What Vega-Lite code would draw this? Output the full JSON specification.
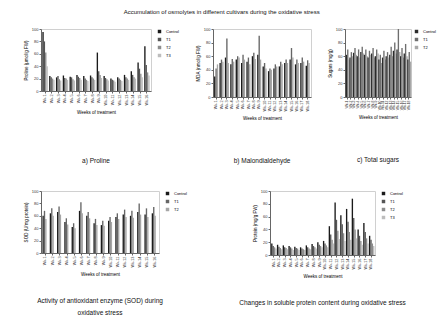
{
 "$schema": "https://vega.github.io/schema/vega-lite/v6.json",
 "padding": {"left": 22, "top": 8, "right": 2, "bottom": 2},
 "title": {"text": "Accumulation of osmolytes in different cultivars during the oxidative stress", "fontSize": 6, "fontWeight": "normal", "anchor": "middle", "offset": 12, "dx": -8},
 "config": {
  "font": "Liberation Sans",
  "view": {"stroke": "#d0d0d0"},
  "axis": {"labelFontSize": 4, "titleFontSize": 4.5, "titleFontWeight": "normal", "tickSize": 2, "labelColor": "#333", "domainColor": "#666", "tickColor": "#666", "grid": false, "labelPadding": 1, "titlePadding": 3},
  "axisX": {"labelAngle": -90, "labelFontSize": 3.8, "titlePadding": 5},
  "legend": {"labelFontSize": 4, "symbolSize": 12, "title": null, "symbolType": "square", "rowPadding": 3, "offset": 6},
  "title": {"fontSize": 6.5, "fontWeight": "normal", "color": "#111"}
 },
 "datasets": {
  "a": [
   {"g":"Wk-1","s":"Control","v":95},{"g":"Wk-1","s":"T1","v":80},{"g":"Wk-1","s":"T2","v":62},{"g":"Wk-1","s":"T3","v":40},
   {"g":"Wk-2","s":"Control","v":24},{"g":"Wk-2","s":"T1","v":22},{"g":"Wk-2","s":"T2","v":20},{"g":"Wk-2","s":"T3","v":18},
   {"g":"Wk-3","s":"Control","v":22},{"g":"Wk-3","s":"T1","v":24},{"g":"Wk-3","s":"T2","v":19},{"g":"Wk-3","s":"T3","v":17},
   {"g":"Wk-4","s":"Control","v":25},{"g":"Wk-4","s":"T1","v":21},{"g":"Wk-4","s":"T2","v":20},{"g":"Wk-4","s":"T3","v":18},
   {"g":"Wk-5","s":"Control","v":23},{"g":"Wk-5","s":"T1","v":22},{"g":"Wk-5","s":"T2","v":19},{"g":"Wk-5","s":"T3","v":17},
   {"g":"Wk-6","s":"Control","v":26},{"g":"Wk-6","s":"T1","v":23},{"g":"Wk-6","s":"T2","v":21},{"g":"Wk-6","s":"T3","v":18},
   {"g":"Wk-7","s":"Control","v":24},{"g":"Wk-7","s":"T1","v":20},{"g":"Wk-7","s":"T2","v":18},{"g":"Wk-7","s":"T3","v":16},
   {"g":"Wk-8","s":"Control","v":25},{"g":"Wk-8","s":"T1","v":22},{"g":"Wk-8","s":"T2","v":20},{"g":"Wk-8","s":"T3","v":18},
   {"g":"Wk-9","s":"Control","v":62},{"g":"Wk-9","s":"T1","v":32},{"g":"Wk-9","s":"T2","v":26},{"g":"Wk-9","s":"T3","v":21},
   {"g":"Wk-10","s":"Control","v":24},{"g":"Wk-10","s":"T1","v":21},{"g":"Wk-10","s":"T2","v":19},{"g":"Wk-10","s":"T3","v":17},
   {"g":"Wk-11","s":"Control","v":20},{"g":"Wk-11","s":"T1","v":18},{"g":"Wk-11","s":"T2","v":17},{"g":"Wk-11","s":"T3","v":15},
   {"g":"Wk-12","s":"Control","v":22},{"g":"Wk-12","s":"T1","v":20},{"g":"Wk-12","s":"T2","v":18},{"g":"Wk-12","s":"T3","v":16},
   {"g":"Wk-13","s":"Control","v":26},{"g":"Wk-13","s":"T1","v":22},{"g":"Wk-13","s":"T2","v":20},{"g":"Wk-13","s":"T3","v":18},
   {"g":"Wk-14","s":"Control","v":32},{"g":"Wk-14","s":"T1","v":26},{"g":"Wk-14","s":"T2","v":22},{"g":"Wk-14","s":"T3","v":20},
   {"g":"Wk-15","s":"Control","v":46},{"g":"Wk-15","s":"T1","v":36},{"g":"Wk-15","s":"T2","v":28},{"g":"Wk-15","s":"T3","v":22},
   {"g":"Wk-16","s":"Control","v":72},{"g":"Wk-16","s":"T1","v":42},{"g":"Wk-16","s":"T2","v":30},{"g":"Wk-16","s":"T3","v":25}
  ],
  "b": [
   {"g":"Wk-1","s":"Control","v":30},{"g":"Wk-1","s":"T1","v":42},{"g":"Wk-1","s":"T2","v":48},
   {"g":"Wk-2","s":"Control","v":50},{"g":"Wk-2","s":"T1","v":55},{"g":"Wk-2","s":"T2","v":52},
   {"g":"Wk-3","s":"Control","v":58},{"g":"Wk-3","s":"T1","v":86},{"g":"Wk-3","s":"T2","v":50},
   {"g":"Wk-4","s":"Control","v":48},{"g":"Wk-4","s":"T1","v":56},{"g":"Wk-4","s":"T2","v":52},
   {"g":"Wk-5","s":"Control","v":55},{"g":"Wk-5","s":"T1","v":60},{"g":"Wk-5","s":"T2","v":58},
   {"g":"Wk-6","s":"Control","v":50},{"g":"Wk-6","s":"T1","v":62},{"g":"Wk-6","s":"T2","v":55},
   {"g":"Wk-7","s":"Control","v":52},{"g":"Wk-7","s":"T1","v":58},{"g":"Wk-7","s":"T2","v":48},
   {"g":"Wk-8","s":"Control","v":60},{"g":"Wk-8","s":"T1","v":65},{"g":"Wk-8","s":"T2","v":56},
   {"g":"Wk-9","s":"Control","v":62},{"g":"Wk-9","s":"T1","v":90},{"g":"Wk-9","s":"T2","v":55},
   {"g":"Wk-10","s":"Control","v":45},{"g":"Wk-10","s":"T1","v":50},{"g":"Wk-10","s":"T2","v":42},
   {"g":"Wk-11","s":"Control","v":38},{"g":"Wk-11","s":"T1","v":42},{"g":"Wk-11","s":"T2","v":40},
   {"g":"Wk-12","s":"Control","v":42},{"g":"Wk-12","s":"T1","v":48},{"g":"Wk-12","s":"T2","v":45},
   {"g":"Wk-13","s":"Control","v":45},{"g":"Wk-13","s":"T1","v":52},{"g":"Wk-13","s":"T2","v":48},
   {"g":"Wk-14","s":"Control","v":50},{"g":"Wk-14","s":"T1","v":55},{"g":"Wk-14","s":"T2","v":50},
   {"g":"Wk-15","s":"Control","v":55},{"g":"Wk-15","s":"T1","v":72},{"g":"Wk-15","s":"T2","v":58},
   {"g":"Wk-16","s":"Control","v":48},{"g":"Wk-16","s":"T1","v":55},{"g":"Wk-16","s":"T2","v":50},
   {"g":"Wk-17","s":"Control","v":50},{"g":"Wk-17","s":"T1","v":58},{"g":"Wk-17","s":"T2","v":52},
   {"g":"Wk-18","s":"Control","v":46},{"g":"Wk-18","s":"T1","v":54},{"g":"Wk-18","s":"T2","v":50}
  ],
  "c": [
   {"g":"Wk-1","s":"Control","v":62},{"g":"Wk-1","s":"T1","v":70},{"g":"Wk-1","s":"T2","v":55},
   {"g":"Wk-2","s":"Control","v":58},{"g":"Wk-2","s":"T1","v":66},{"g":"Wk-2","s":"T2","v":60},
   {"g":"Wk-3","s":"Control","v":65},{"g":"Wk-3","s":"T1","v":72},{"g":"Wk-3","s":"T2","v":62},
   {"g":"Wk-4","s":"Control","v":60},{"g":"Wk-4","s":"T1","v":70},{"g":"Wk-4","s":"T2","v":58},
   {"g":"Wk-5","s":"Control","v":66},{"g":"Wk-5","s":"T1","v":74},{"g":"Wk-5","s":"T2","v":64},
   {"g":"Wk-6","s":"Control","v":62},{"g":"Wk-6","s":"T1","v":70},{"g":"Wk-6","s":"T2","v":60},
   {"g":"Wk-7","s":"Control","v":58},{"g":"Wk-7","s":"T1","v":68},{"g":"Wk-7","s":"T2","v":62},
   {"g":"Wk-8","s":"Control","v":64},{"g":"Wk-8","s":"T1","v":72},{"g":"Wk-8","s":"T2","v":58},
   {"g":"Wk-9","s":"Control","v":60},{"g":"Wk-9","s":"T1","v":70},{"g":"Wk-9","s":"T2","v":64},
   {"g":"Wk-10","s":"Control","v":55},{"g":"Wk-10","s":"T1","v":62},{"g":"Wk-10","s":"T2","v":50},
   {"g":"Wk-11","s":"Control","v":58},{"g":"Wk-11","s":"T1","v":68},{"g":"Wk-11","s":"T2","v":55},
   {"g":"Wk-12","s":"Control","v":60},{"g":"Wk-12","s":"T1","v":66},{"g":"Wk-12","s":"T2","v":58},
   {"g":"Wk-13","s":"Control","v":62},{"g":"Wk-13","s":"T1","v":74},{"g":"Wk-13","s":"T2","v":60},
   {"g":"Wk-14","s":"Control","v":68},{"g":"Wk-14","s":"T1","v":80},{"g":"Wk-14","s":"T2","v":64},
   {"g":"Wk-15","s":"Control","v":70},{"g":"Wk-15","s":"T1","v":100},{"g":"Wk-15","s":"T2","v":66},
   {"g":"Wk-16","s":"Control","v":60},{"g":"Wk-16","s":"T1","v":72},{"g":"Wk-16","s":"T2","v":58},
   {"g":"Wk-17","s":"Control","v":64},{"g":"Wk-17","s":"T1","v":78},{"g":"Wk-17","s":"T2","v":60},
   {"g":"Wk-18","s":"Control","v":55},{"g":"Wk-18","s":"T1","v":66},{"g":"Wk-18","s":"T2","v":52}
  ],
  "d": [
   {"g":"Wk-1","s":"Control","v":60},{"g":"Wk-1","s":"T1","v":68},{"g":"Wk-1","s":"T2","v":55},
   {"g":"Wk-2","s":"Control","v":64},{"g":"Wk-2","s":"T1","v":72},{"g":"Wk-2","s":"T2","v":60},
   {"g":"Wk-3","s":"Control","v":66},{"g":"Wk-3","s":"T1","v":75},{"g":"Wk-3","s":"T2","v":62},
   {"g":"Wk-4","s":"Control","v":50},{"g":"Wk-4","s":"T1","v":56},{"g":"Wk-4","s":"T2","v":46},
   {"g":"Wk-5","s":"Control","v":42},{"g":"Wk-5","s":"T1","v":48},{"g":"Wk-5","s":"T2","v":40},
   {"g":"Wk-6","s":"Control","v":68},{"g":"Wk-6","s":"T1","v":82},{"g":"Wk-6","s":"T2","v":64},
   {"g":"Wk-7","s":"Control","v":60},{"g":"Wk-7","s":"T1","v":66},{"g":"Wk-7","s":"T2","v":56},
   {"g":"Wk-8","s":"Control","v":48},{"g":"Wk-8","s":"T1","v":55},{"g":"Wk-8","s":"T2","v":45},
   {"g":"Wk-9","s":"Control","v":45},{"g":"Wk-9","s":"T1","v":52},{"g":"Wk-9","s":"T2","v":44},
   {"g":"Wk-10","s":"Control","v":52},{"g":"Wk-10","s":"T1","v":58},{"g":"Wk-10","s":"T2","v":50},
   {"g":"Wk-11","s":"Control","v":58},{"g":"Wk-11","s":"T1","v":64},{"g":"Wk-11","s":"T2","v":55},
   {"g":"Wk-12","s":"Control","v":62},{"g":"Wk-12","s":"T1","v":70},{"g":"Wk-12","s":"T2","v":58},
   {"g":"Wk-13","s":"Control","v":60},{"g":"Wk-13","s":"T1","v":68},{"g":"Wk-13","s":"T2","v":57},
   {"g":"Wk-14","s":"Control","v":66},{"g":"Wk-14","s":"T1","v":80},{"g":"Wk-14","s":"T2","v":62},
   {"g":"Wk-15","s":"Control","v":62},{"g":"Wk-15","s":"T1","v":72},{"g":"Wk-15","s":"T2","v":58},
   {"g":"Wk-16","s":"Control","v":64},{"g":"Wk-16","s":"T1","v":74},{"g":"Wk-16","s":"T2","v":60}
  ],
  "e": [
   {"g":"Wk-1","s":"Control","v":18},{"g":"Wk-1","s":"T1","v":14},{"g":"Wk-1","s":"T2","v":12},{"g":"Wk-1","s":"T3","v":10},
   {"g":"Wk-2","s":"Control","v":16},{"g":"Wk-2","s":"T1","v":13},{"g":"Wk-2","s":"T2","v":11},{"g":"Wk-2","s":"T3","v":9},
   {"g":"Wk-3","s":"Control","v":15},{"g":"Wk-3","s":"T1","v":12},{"g":"Wk-3","s":"T2","v":11},{"g":"Wk-3","s":"T3","v":9},
   {"g":"Wk-4","s":"Control","v":14},{"g":"Wk-4","s":"T1","v":12},{"g":"Wk-4","s":"T2","v":10},{"g":"Wk-4","s":"T3","v":8},
   {"g":"Wk-5","s":"Control","v":13},{"g":"Wk-5","s":"T1","v":11},{"g":"Wk-5","s":"T2","v":10},{"g":"Wk-5","s":"T3","v":8},
   {"g":"Wk-6","s":"Control","v":12},{"g":"Wk-6","s":"T1","v":10},{"g":"Wk-6","s":"T2","v":9},{"g":"Wk-6","s":"T3","v":8},
   {"g":"Wk-7","s":"Control","v":15},{"g":"Wk-7","s":"T1","v":12},{"g":"Wk-7","s":"T2","v":10},{"g":"Wk-7","s":"T3","v":9},
   {"g":"Wk-8","s":"Control","v":17},{"g":"Wk-8","s":"T1","v":14},{"g":"Wk-8","s":"T2","v":12},{"g":"Wk-8","s":"T3","v":10},
   {"g":"Wk-9","s":"Control","v":20},{"g":"Wk-9","s":"T1","v":16},{"g":"Wk-9","s":"T2","v":14},{"g":"Wk-9","s":"T3","v":12},
   {"g":"Wk-10","s":"Control","v":22},{"g":"Wk-10","s":"T1","v":18},{"g":"Wk-10","s":"T2","v":15},{"g":"Wk-10","s":"T3","v":12},
   {"g":"Wk-11","s":"Control","v":45},{"g":"Wk-11","s":"T1","v":32},{"g":"Wk-11","s":"T2","v":24},{"g":"Wk-11","s":"T3","v":18},
   {"g":"Wk-12","s":"Control","v":82},{"g":"Wk-12","s":"T1","v":55},{"g":"Wk-12","s":"T2","v":38},{"g":"Wk-12","s":"T3","v":25},
   {"g":"Wk-13","s":"Control","v":62},{"g":"Wk-13","s":"T1","v":48},{"g":"Wk-13","s":"T2","v":34},{"g":"Wk-13","s":"T3","v":22},
   {"g":"Wk-14","s":"Control","v":72},{"g":"Wk-14","s":"T1","v":52},{"g":"Wk-14","s":"T2","v":36},{"g":"Wk-14","s":"T3","v":24},
   {"g":"Wk-15","s":"Control","v":88},{"g":"Wk-15","s":"T1","v":58},{"g":"Wk-15","s":"T2","v":40},{"g":"Wk-15","s":"T3","v":26},
   {"g":"Wk-16","s":"Control","v":40},{"g":"Wk-16","s":"T1","v":30},{"g":"Wk-16","s":"T2","v":22},{"g":"Wk-16","s":"T3","v":16},
   {"g":"Wk-17","s":"Control","v":50},{"g":"Wk-17","s":"T1","v":36},{"g":"Wk-17","s":"T2","v":26},{"g":"Wk-17","s":"T3","v":18},
   {"g":"Wk-18","s":"Control","v":30},{"g":"Wk-18","s":"T1","v":24},{"g":"Wk-18","s":"T2","v":18},{"g":"Wk-18","s":"T3","v":14}
  ]
 },
 "spacing": 22,
 "resolve": {"scale": {"color": "independent"}, "legend": {"color": "independent"}},
 "vconcat": [
  {
   "spacing": 14,
   "resolve": {"scale": {"color": "independent"}, "legend": {"color": "independent"}},
   "hconcat": [
    {
     "data": {"name": "a"}, "mark": {"type": "bar"}, "width": 110, "height": 62,
     "title": {"text": "a) Proline", "orient": "bottom", "offset": 44},
     "encoding": {
      "x": {"field": "g", "type": "ordinal", "sort": null, "scale": {"paddingInner": 0.2}, "axis": {"title": "Weeks of treatment"}},
      "xOffset": {"field": "s", "sort": null},
      "y": {"field": "v", "type": "quantitative", "scale": {"domain": [0, 100]}, "axis": {"title": "Proline (µmol/g FW)", "tickCount": 5}},
      "color": {"field": "s", "type": "nominal", "sort": null, "scale": {"range": ["#1a1a1a", "#555555", "#8c8c8c", "#bdbdbd"]}}
     }
    },
    {
     "data": {"name": "b"}, "mark": {"type": "bar"}, "width": 98, "height": 68,
     "title": {"text": "b) Malondialdehyde", "orient": "bottom", "offset": 38},
     "encoding": {
      "x": {"field": "g", "type": "ordinal", "sort": null, "scale": {"paddingInner": 0.2}, "axis": {"title": "Weeks of treatment"}},
      "xOffset": {"field": "s", "sort": null},
      "y": {"field": "v", "type": "quantitative", "scale": {"domain": [0, 100]}, "axis": {"title": "MDA (nmol/g FW)", "tickCount": 5}},
      "color": {"field": "s", "type": "nominal", "sort": null, "scale": {"range": ["#1a1a1a", "#666666", "#a6a6a6"]}, "legend": null}
     }
    },
    {
     "data": {"name": "c"}, "mark": {"type": "bar"}, "width": 66, "height": 68,
     "title": {"text": "c) Total sugars", "orient": "bottom", "offset": 38},
     "encoding": {
      "x": {"field": "g", "type": "ordinal", "sort": null, "scale": {"paddingInner": 0.15}, "axis": {"title": "Weeks of treatment", "labelFontSize": 3.4}},
      "xOffset": {"field": "s", "sort": null},
      "y": {"field": "v", "type": "quantitative", "scale": {"domain": [0, 100]}, "axis": {"title": "Sugars (mg/g)", "tickCount": 5}},
      "color": {"field": "s", "type": "nominal", "sort": null, "scale": {"range": ["#2b2b2b", "#6e6e6e", "#a8a8a8"]}, "legend": {"offset": 3}}
     }
    }
   ]
  },
  {
   "spacing": 50,
   "resolve": {"scale": {"color": "independent"}, "legend": {"color": "independent"}},
   "hconcat": [
    {
     "data": {"name": "d"}, "mark": {"type": "bar"}, "width": 118, "height": 62,
     "title": {"text": ["Activity of antioxidant enzyme (SOD) during", "oxidative stress"], "orient": "bottom", "offset": 22, "lineHeight": 12},
     "encoding": {
      "x": {"field": "g", "type": "ordinal", "sort": null, "scale": {"paddingInner": 0.2}, "axis": {"title": "Weeks of treatment"}},
      "xOffset": {"field": "s", "sort": null},
      "y": {"field": "v", "type": "quantitative", "scale": {"domain": [0, 100]}, "axis": {"title": "SOD (U/mg protein)", "tickCount": 5}},
      "color": {"field": "s", "type": "nominal", "sort": null, "scale": {"range": ["#1a1a1a", "#666666", "#a6a6a6"]}}
     }
    },
    {
     "data": {"name": "e"}, "mark": {"type": "bar"}, "width": 105, "height": 64,
     "title": {"text": "Changes in soluble protein content during oxidative stress", "orient": "bottom", "offset": 22},
     "encoding": {
      "x": {"field": "g", "type": "ordinal", "sort": null, "scale": {"paddingInner": 0.15}, "axis": {"title": "Weeks of treatment"}},
      "xOffset": {"field": "s", "sort": null},
      "y": {"field": "v", "type": "quantitative", "scale": {"domain": [0, 100]}, "axis": {"title": "Protein (mg/g FW)", "tickCount": 5}},
      "color": {"field": "s", "type": "nominal", "sort": null, "scale": {"range": ["#1a1a1a", "#555555", "#8c8c8c", "#bdbdbd"]}}
     }
    }
   ]
  }
 ]
}
